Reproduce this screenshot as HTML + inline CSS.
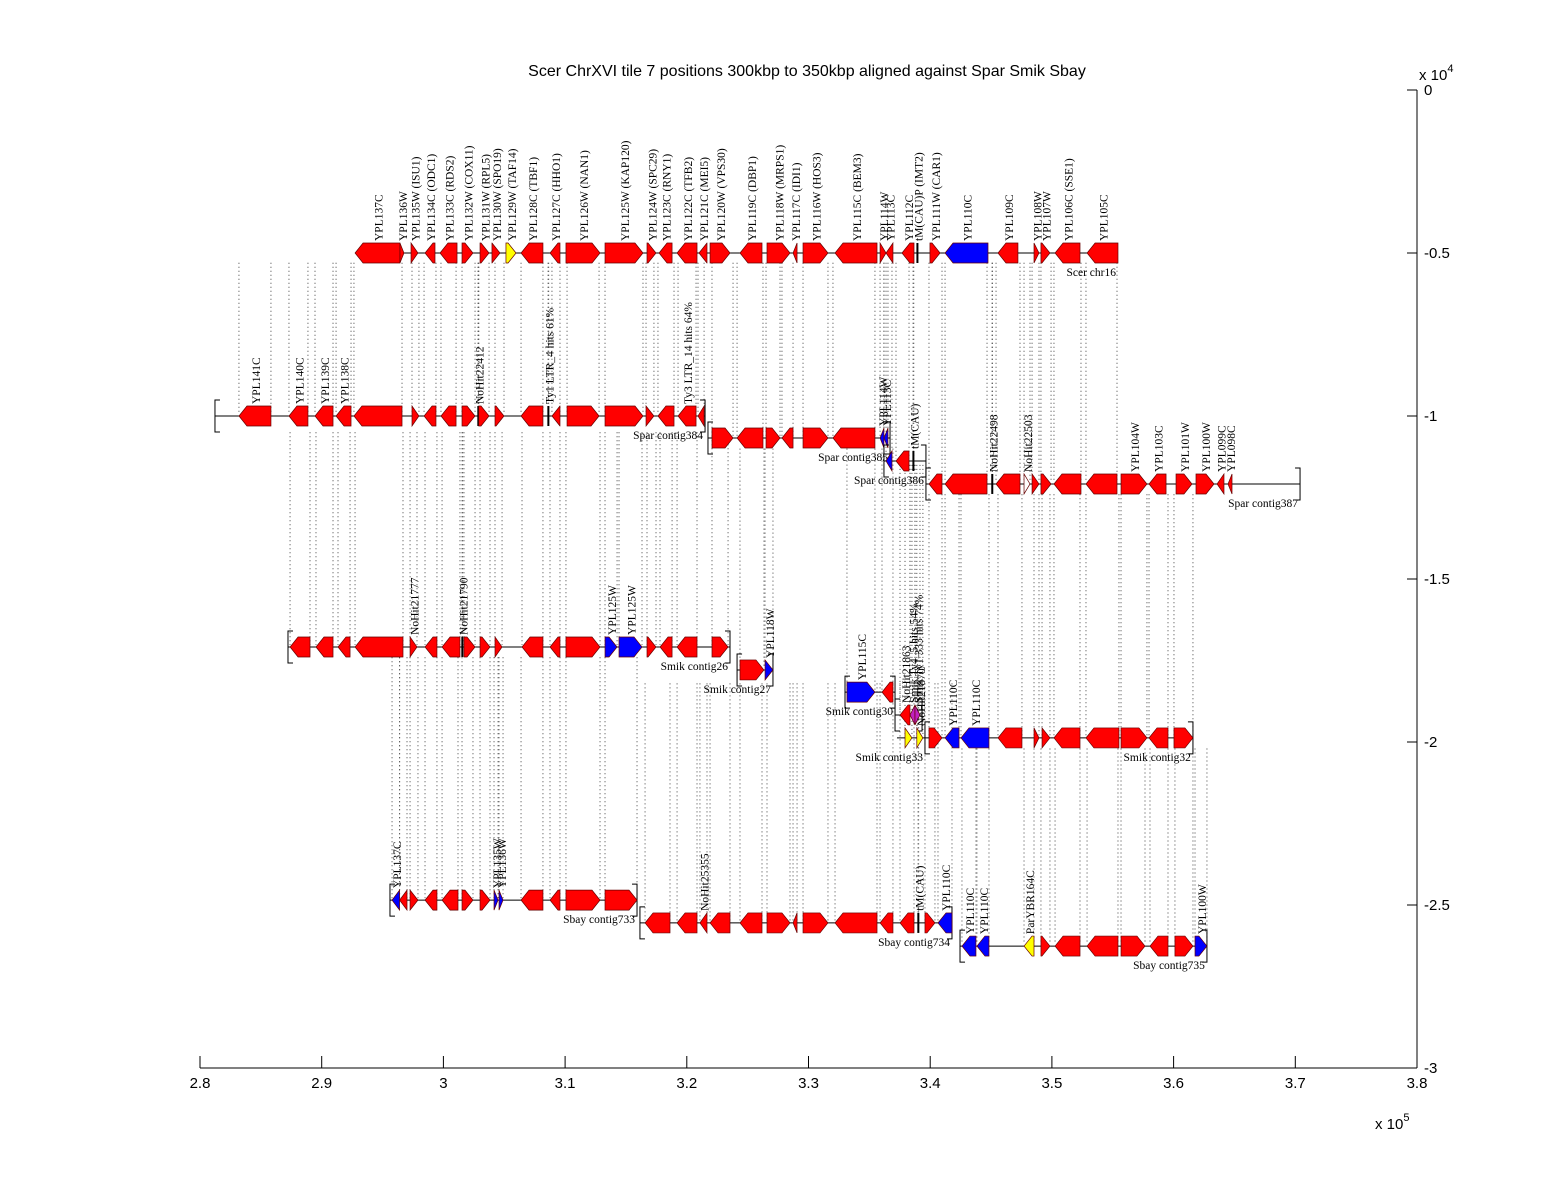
<!DOCTYPE html>
<html><head><meta charset="utf-8"><style>
html,body{margin:0;padding:0;background:#fff;}
svg{display:block;}
.lab{font-family:"Liberation Serif",serif;font-size:11.5px;fill:#000;}
.ax{font-family:"Liberation Sans",sans-serif;font-size:15px;fill:#000;}
</style></head><body>
<svg id="chart" width="1568" height="1200" viewBox="0 0 1568 1200" xmlns="http://www.w3.org/2000/svg">
<rect width="1568" height="1200" fill="#fff"/>
<text x="807" y="76" text-anchor="middle" font-family="Liberation Sans, sans-serif" font-size="16">Scer ChrXVI tile 7 positions 300kbp to 350kbp aligned against Spar Smik Sbay</text>
<g id="links"></g>
<g id="tracks"></g>
<g id="axes"></g>
</svg>
<script>
// x tick labels (x 10^5) and y tick labels (x 10^4)
const xTicks = [2.8,2.9,3.0,3.1,3.2,3.3,3.4,3.5,3.6,3.7,3.8];
const xTickLabels = ["2.8","2.9","3","3.1","3.2","3.3","3.4","3.5","3.6","3.7","3.8"];
const yTicks = [0,-0.5,-1,-1.5,-2,-2.5,-3];
const yTickLabels = ["0","-0.5","-1","-1.5","-2","-2.5","-3"];

// contigs: [id, name, yValue, startKbp, endKbp, linkToYValue, brackets, linkMaxKbp]
const contigs = [
 ["scer","Scer chr16",-5000,292.74,355.43,null,false,0],
 ["spar384","Spar contig384",-10000,281.23,321.50,-5300,true,355.5],
 ["spar385","Spar contig385",-10675,321.74,336.70,-5300,true,355.5],
 ["spar386","Spar contig386",-11380,336.20,339.65,-5300,true,355.5],
 ["spar387","Spar contig387",-12085,339.65,370.39,-5300,true,355.5],
 ["smik26","Smik contig26",-17085,287.23,323.55,-10500,true,400],
 ["smik27","Smik contig27",-17790,324.13,327.08,-11000,true,400],
 ["smik30","Smik contig30",-18470,333.00,337.11,-11000,true,400],
 ["smik31","",-19170,337.11,339.33,-11500,true,400],
 ["smik33","Smik contig33",-19875,337.27,339.57,-11500,false,400],
 ["smik32","Smik contig32",-19875,339.57,361.59,-12400,true,400],
 ["sbay733","Sbay contig733",-24850,295.61,315.91,-17400,true,400],
 ["sbay734","Sbay contig734",-25550,316.15,341.79,-18200,true,400],
 ["sbay735","Sbay contig735",-26260,342.45,362.74,-20200,true,400]
];

// genes per contig: [startKbp, endKbp, strand(1=W,-1=C,0=mark), color, label]
const R="#ff0000",B="#0000ff",Yl="#ffff00",P="#c020c0";
const genes = {
 scer:[[292.74,296.43,-1,R,"YPL137C"],[296.43,296.76,1,R,"YPL136W"],[297.34,297.91,1,R,"YPL135W (ISU1)"],[298.49,299.31,-1,R,"YPL134C (ODC1)"],[299.72,301.12,-1,R,"YPL133C (RDS2)"],[301.53,302.43,1,R,"YPL132W (COX11)"],[303.01,303.75,1,R,"YPL131W (RPL5)"],[303.99,304.65,1,R,"YPL130W (SPO19)"],[305.14,305.97,1,Yl,"YPL129W (TAF14)"],[306.38,308.18,-1,R,"YPL128C (TBF1)"],[308.76,309.58,-1,R,"YPL127C (HHO1)"],[310.07,312.87,1,R,"YPL126W (NAN1)"],[313.28,316.40,1,R,"YPL125W (KAP120)"],[316.73,317.47,1,R,"YPL124W (SPC29)"],[317.72,318.79,-1,R,"YPL123C (RNY1)"],[319.20,320.84,-1,R,"YPL122C (TFB2)"],[321.00,321.66,-1,R,"YPL121C (MEI5)"],[321.91,323.55,1,R,"YPL120W (VPS30)"],[324.37,326.18,-1,R,"YPL119C (DBP1)"],[326.59,328.48,1,R,"YPL118W (MRPS1)"],[328.73,329.06,-1,R,"YPL117C (IDI1)"],[329.55,331.60,1,R,"YPL116W (HOS3)"],[332.18,335.63,-1,R,"YPL115C (BEM3)"],[335.88,336.37,1,R,"YPL114W"],[336.37,336.94,-1,R,"YPL113C"],[337.68,338.67,-1,R,"YPL112C"],[338.9,339.0,0,R,"tM(CAU)P (IMT2)"],[339.98,340.81,1,R,"YPL111W (CAR1)"],[341.22,344.75,-1,B,"YPL110C"],[345.57,347.21,-1,R,"YPL109C"],[348.53,348.94,1,R,"YPL108W"],[349.10,349.84,1,R,"YPL107W"],[350.26,352.31,-1,R,"YPL106C (SSE1)"],[352.89,355.43,-1,R,"YPL105C"]],
 spar384:[[283.2,285.83,-1,R,"YPL141C"],[287.31,288.87,-1,R,"YPL140C"],[289.45,290.93,-1,R,"YPL139C"],[291.18,292.41,-1,R,"YPL138C"],[292.65,296.60,-1,R,""],[297.42,297.99,1,R,""],[298.41,299.39,-1,R,""],[299.80,301.04,-1,R,""],[301.53,302.60,1,R,""],[302.84,302.9,0,R,"NoHit22412"],[302.9,303.75,1,R,""],[304.24,304.98,1,R,""],[306.38,308.18,-1,R,""],[308.6,308.65,0,R,"Ty1 LTR_4 hits 61%"],[308.92,309.58,-1,R,""],[310.16,312.79,1,R,""],[313.28,316.40,1,R,""],[316.65,317.30,1,R,""],[317.63,318.95,-1,R,""],[319.28,320.76,-1,R,"Ty3 LTR_14 hits 64%"],[320.92,321.42,-1,R,""]],
 spar385:[[322.07,323.80,1,R,""],[324.13,326.26,-1,R,""],[326.51,327.66,1,R,""],[327.82,328.73,-1,R,""],[329.55,331.60,1,R,""],[332.01,335.46,-1,R,""],[335.88,336.20,-1,B,"YPL114W"],[336.20,336.53,-1,B,"YPL113C"]],
 spar386:[[336.37,336.86,-1,B,""],[337.19,338.26,-1,R,""],[338.59,338.65,0,R,"tM(CAU)"]],
 spar387:[[339.90,340.97,-1,R,""],[341.22,344.67,-1,R,""],[345.08,345.12,0,R,"NoHit22498"],[345.41,347.38,-1,R,""],[347.71,348.2,1,"#ffffff","NoHit22503"],[348.37,348.94,1,R,""],[349.10,349.93,1,R,""],[350.17,352.39,-1,R,""],[352.80,355.35,-1,R,""],[355.68,357.81,1,R,"YPL104W"],[357.98,359.38,-1,R,"YPL103C"],[360.20,361.51,1,R,"YPL101W"],[361.84,363.32,1,R,"YPL100W"],[363.57,364.14,-1,R,"YPL099C"],[364.47,364.80,-1,R,"YPL098C"]],
 smik26:[[287.40,289.04,-1,R,""],[289.53,290.93,-1,R,""],[291.34,292.33,-1,R,""],[292.74,296.68,-1,R,""],[297.26,297.83,1,R,"NoHit21777"],[298.49,299.47,-1,R,""],[299.89,301.36,-1,R,""],[301.53,301.58,0,R,"NoHit21790"],[301.69,302.60,1,R,""],[303.01,303.83,1,R,""],[304.24,304.82,1,R,""],[306.46,308.18,-1,R,""],[308.76,309.58,-1,R,""],[310.07,312.87,1,R,""],[313.28,314.27,1,B,"YPL125W"],[314.43,316.32,1,B,"YPL125W"],[316.73,317.47,1,R,""],[317.80,318.79,-1,R,""],[319.20,320.84,-1,R,""],[322.07,323.39,1,R,""]],
 smik27:[[324.37,326.34,1,R,""],[326.43,327.08,1,B,"YPL118W"]],
 smik30:[[333.16,335.46,1,B,"YPL115C"],[336.04,336.94,-1,R,""]],
 smik31:[[337.52,338.34,-1,R,"NoHit21863"],[338.34,338.75,-1,P,"Smik Ty4_5 hits 54%"],[338.75,339.16,1,P,"Smik Ty1 333 hits 74%"]],
 smik33:[[337.93,338.50,1,Yl,""],[338.9,339.4,1,Yl,"NoHit21870"]],
 smik32:[[339.90,340.97,1,R,""],[341.22,342.37,-1,B,"YPL110C"],[342.53,344.83,-1,B,"YPL110C"],[345.57,347.54,-1,R,""],[348.53,348.94,1,R,""],[349.19,349.84,1,R,""],[350.17,352.31,-1,R,""],[352.80,355.51,-1,R,""],[355.68,357.81,1,R,""],[357.98,359.54,-1,R,""],[360.03,361.59,1,R,""]],
 sbay733:[[295.78,296.40,-1,B,"YPL137C"],[296.40,297.01,-1,R,""],[297.26,297.91,1,R,""],[298.49,299.47,-1,R,""],[299.89,301.20,-1,R,""],[301.53,302.43,1,R,""],[303.01,303.83,1,R,""],[304.16,304.49,1,B,"YPL135W"],[304.57,304.90,1,B,"YPL136W"],[306.38,308.18,-1,R,""],[308.76,309.58,-1,R,""],[310.07,312.87,1,R,""],[313.28,315.91,1,R,""]],
 sbay734:[[316.57,318.62,-1,R,""],[319.20,320.84,-1,R,""],[321.08,321.66,-1,R,"NoHit25355"],[321.91,323.55,-1,R,""],[324.37,326.18,-1,R,""],[326.59,328.48,1,R,""],[328.73,329.06,-1,R,""],[329.55,331.60,1,R,""],[332.18,335.63,-1,R,""],[335.88,336.94,-1,R,""],[337.52,338.67,-1,R,""],[339.0,339.05,0,R,"tM(CAU)"],[339.57,340.39,1,R,""],[340.64,341.79,-1,B,"YPL110C"]],
 sbay735:[[342.61,343.76,-1,B,"YPL110C"],[343.84,344.83,-1,B,"YPL110C"],[347.71,348.53,-1,Yl,"ParYBR164C"],[349.10,349.84,1,R,""],[350.26,352.31,-1,R,""],[352.89,355.43,-1,R,""],[355.68,357.65,1,R,""],[358.06,359.54,-1,R,""],[360.11,361.59,1,R,""],[361.76,362.74,1,B,"YPL100W"]]
};

const X = kbp => 200 + (kbp - 280) * 12.17;
const Y = v => 90 + (-v) / 30000 * 978;
const NS = "http://www.w3.org/2000/svg";
function mk(tag, attrs, parent){const e=document.createElementNS(NS,tag);for(const k in attrs)e.setAttribute(k,attrs[k]);parent.appendChild(e);return e;}

const gLinks=document.getElementById('links'), gTr=document.getElementById('tracks'), gAx=document.getElementById('axes');

contigs.forEach(c=>{
  const [id,name,yv,s,e,linkY,br,linkMax]=c;
  const y=Y(yv);
  const g=mk('g',{},gTr);
  
  
  const ln=mk('line',{x1:X(s),x2:X(e),y1:y,y2:y,stroke:'#000','stroke-width':1},g);
  
  
  if(br){
    [s,e].forEach((p,i)=>{
      const b=mk('path',{d:`M${X(p)+(i?-5:5)},${y-16} L${X(p)},${y-16} L${X(p)},${y+16} L${X(p)+(i?-5:5)},${y+16}`,fill:'none',stroke:'#000'},g);
      
      
    });
  }
  if(name){
    const t=mk('text',{x:X(e)-2,y:y+23,'text-anchor':'end',class:'lab'},g);
    t.textContent=name;
    
    
  }
  (genes[id]||[]).forEach(gn=>{
    const [gs,ge,st,col,lab]=gn;
    const x1=X(gs),x2=X(ge),cx=(x1+x2)/2,h=10;
    if(linkY!==null && ge<=linkMax){
      [x1,x2].forEach(xx=>{
        const l=mk('line',{x1:xx,x2:xx,y1:Y(linkY),y2:y-2,stroke:'#444','stroke-width':1,'stroke-dasharray':'1,3'},gLinks);
        
        
      });
    }
    let el;
    if(st===0){
      el=mk('line',{x1:cx,x2:cx,y1:y-10,y2:y+10,stroke:'#000','stroke-width':2},g);
    } else {
      const w=x2-x1, a=Math.min(8,w);
      let pts;
      if(st>0) pts=`${x1},${y-h} ${x2-a},${y-h} ${x2},${y} ${x2-a},${y+h} ${x1},${y+h}`;
      else pts=`${x2},${y-h} ${x1+a},${y-h} ${x1},${y} ${x1+a},${y+h} ${x2},${y+h}`;
      el=mk('polygon',{points:pts,fill:col,stroke:'#600','stroke-width':0.7},g);
    }
    
    
    if(lab){
      const t=mk('text',{transform:`translate(${cx+5},${y-12}) rotate(-90)`,class:'lab'},g);
      t.textContent=lab;
      
      
    }
  });
});

// axes
const xl=mk('line',{x1:200,x2:1417,y1:1068,y2:1068,stroke:'#000'},gAx);


const yl=mk('line',{x1:1417,x2:1417,y1:90,y2:1068,stroke:'#000'},gAx);


xTicks.forEach((v,i)=>{
  const x=X(v*100);
  const t=mk('line',{x1:x,x2:x,y1:1068,y2:1056,stroke:'#000'},gAx);
  
  
  const tx=mk('text',{x:x,y:1088,'text-anchor':'middle',class:'ax'},gAx);
  tx.textContent=xTickLabels[i];
  
  
});
yTicks.forEach((v,i)=>{
  const y=Y(v*10000);
  const t=mk('line',{x1:1407,x2:1417,y1:y,y2:y,stroke:'#000'},gAx);
  
  
  const tx=mk('text',{x:1424,y:y+5,class:'ax'},gAx);
  tx.textContent=yTickLabels[i];
  
  
});
const ye=mk('text',{x:1419,y:80,class:'ax'},gAx);
ye.innerHTML='x 10<tspan dy="-8" font-size="11">4</tspan>';


const xe=mk('text',{x:1375,y:1129,class:'ax'},gAx);
xe.innerHTML='x 10<tspan dy="-8" font-size="11">5</tspan>';


</script>
</body></html>
